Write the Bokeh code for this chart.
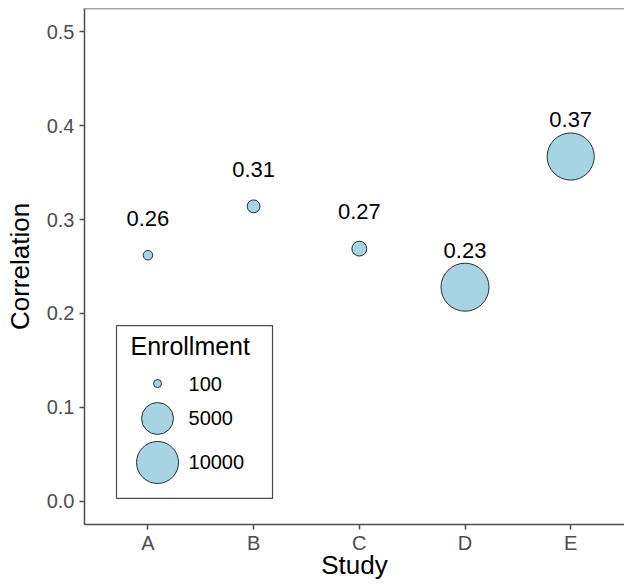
from bokeh.plotting import figure
from bokeh.models import FixedTicker, Range1d, Label, Span, PrintfTickFormatter, ColumnDataSource
from bokeh.core.properties import value
from bokeh.embed import file_html
from bokeh.resources import INLINE
import math

# ---- data ----
studies = ["A", "B", "C", "D", "E"]
correlation = [0.262, 0.314, 0.269, 0.228, 0.367]
enrollment = [120, 300, 500, 13800, 13200]
legend_breaks = [100, 5000, 10000]
y_ticks = [0.0, 0.1, 0.2, 0.3, 0.4, 0.5]

FONT = "Liberation Sans"
GREY = "#4D4D4D"
FILL = "#A6D4E3"

# size scale (area-like, ggplot style)
S_LO, S_HI = 8.0, 48.0
V_LO = min(legend_breaks + enrollment)
V_HI = max(enrollment)

def size_for(v):
    return S_LO + (S_HI - S_LO) * math.sqrt((v - V_LO) / (V_HI - V_LO))

xs = [i + 1 for i in range(len(studies))]
src = ColumnDataSource(dict(
    x=xs, y=correlation,
    size=[size_for(v) for v in enrollment],
    lab=[f"{v:.2f}" for v in correlation],
))

p = figure(width=624, height=585, output_backend="svg", toolbar_location=None,
           x_range=Range1d(0.4, 5.509), y_range=Range1d(-0.0245, 0.5245),
           min_border_left=84, min_border_right=0, min_border_top=8, min_border_bottom=61)
p.outline_line_color = None
p.xgrid.visible = False
p.ygrid.visible = False
p.background_fill_color = "white"

p.scatter("x", "y", size="size", source=src, fill_color=FILL, line_color="#2B2B2B", line_width=1)
p.text("x", "y", text="lab", source=src, y_offset=-37, text_align="center", text_baseline="middle",
       text_font=value(FONT), text_font_size="22px", text_color="black")

# top border
p.add_layout(Span(location=0.5245, dimension="width", line_color=GREY, line_width=1.5))

for ax in (p.xaxis[0], p.yaxis[0]):
    ax.axis_line_color = GREY
    ax.axis_line_width = 1.5
    ax.major_tick_line_color = GREY
    ax.major_tick_line_width = 1.5
    ax.major_tick_out = 5
    ax.major_tick_in = 0
    ax.minor_tick_line_color = None
    ax.major_label_text_font = FONT
    ax.major_label_text_font_size = "20px"
    ax.major_label_text_color = GREY
    ax.major_label_standoff = 5
    ax.axis_label_text_font = FONT
    ax.axis_label_text_font_size = "26px"
    ax.axis_label_text_font_style = "normal"
    ax.axis_label_text_color = "black"

p.xaxis.ticker = FixedTicker(ticks=xs)
p.xaxis.major_label_overrides = {x: s for x, s in zip(xs, studies)}
p.xaxis.major_label_standoff = 2
p.xaxis.axis_label = "Study"
p.xaxis.axis_label_standoff = -7
p.yaxis.ticker = FixedTicker(ticks=y_ticks)
p.yaxis.formatter = PrintfTickFormatter(format="%.1f")
p.yaxis.axis_label = "Correlation"
p.yaxis.axis_label_standoff = 9

# manual size legend
p.quad(left=0.703, right=2.179, bottom=0.0032, top=0.1872, fill_color="white",
       line_color=GREY, line_width=1.2)
p.add_layout(Label(x=0.835, y=0.165, text="Enrollment", text_align="left", text_baseline="middle",
                   text_font=FONT, text_font_size="25px", text_color="black"))
leg_y = [0.1255, 0.0883, 0.0415]
leg_src = ColumnDataSource(dict(
    x=[1.091] * len(legend_breaks), y=leg_y,
    size=[size_for(v) for v in legend_breaks],
    tx=[1.384] * len(legend_breaks),
    lab=[str(v) for v in legend_breaks],
))
p.scatter("x", "y", size="size", source=leg_src, fill_color=FILL, line_color="#2B2B2B", line_width=1)
p.text("tx", "y", text="lab", source=leg_src, text_align="left", text_baseline="middle",
       text_font=value(FONT), text_font_size="20px", text_color="black")

open("out.html", "w").write(file_html(p, INLINE))
